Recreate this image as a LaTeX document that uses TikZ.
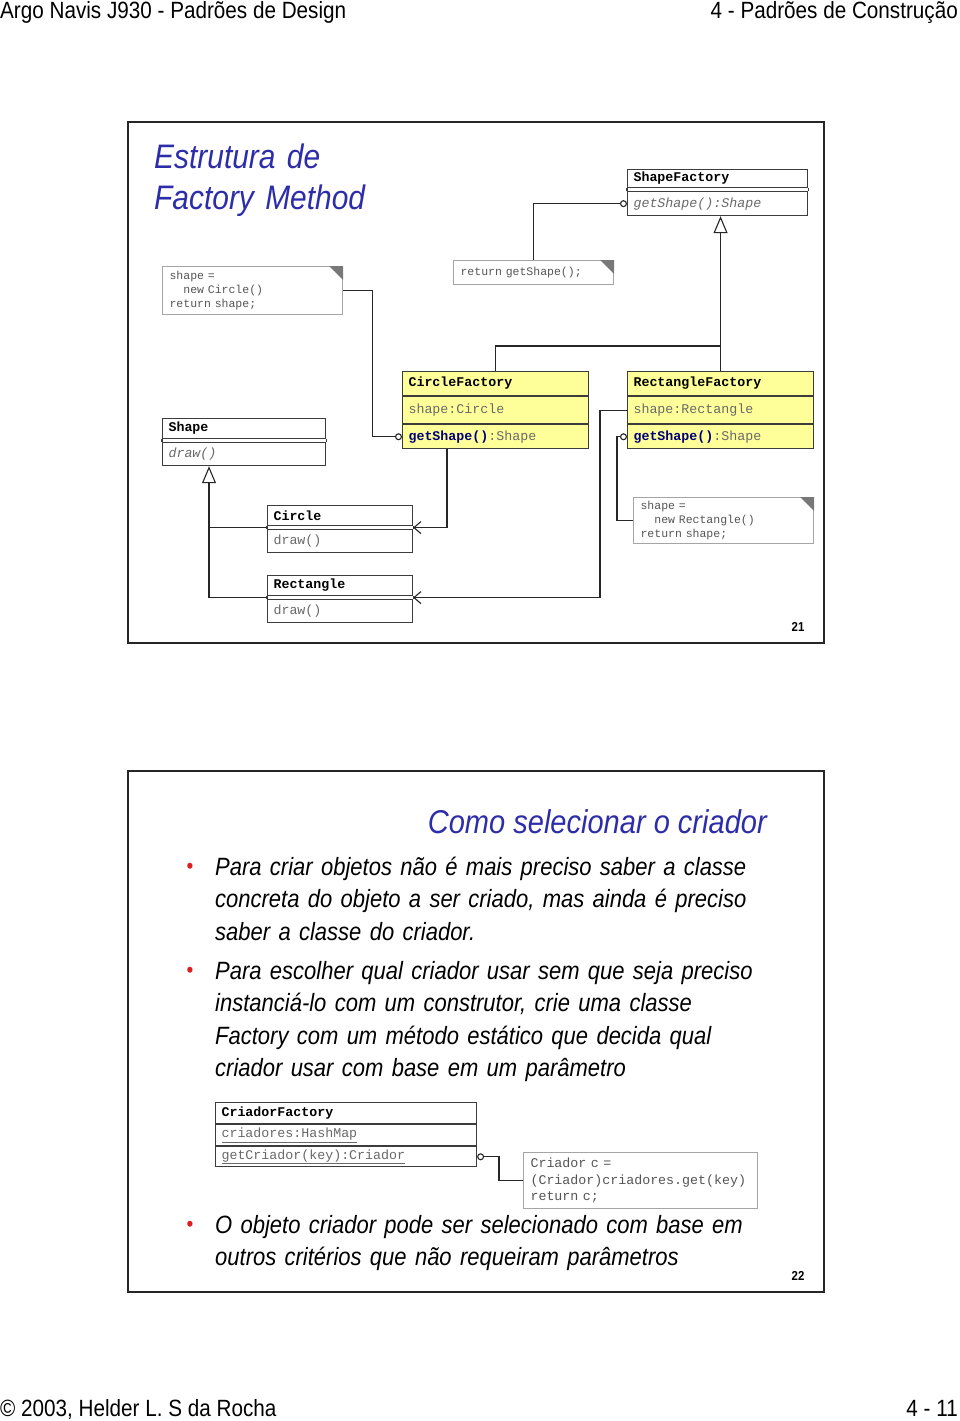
\documentclass[tikz,border=0pt]{standalone}
\usepackage{fontspec}
\setmainfont{Liberation Sans}[FakeStretch=0.88]
\newfontfamily\umlfont{Liberation Mono}[WordSpace={1,0,0}]
\usetikzlibrary{arrows.meta,positioning}

\definecolor{slideblue}{RGB}{45,45,170}
\definecolor{bulletred}{RGB}{220,30,30}
\definecolor{umlyellow}{RGB}{255,255,153}
\definecolor{umlline}{RGB}{60,60,60}
\definecolor{umltext}{RGB}{105,105,105}
\definecolor{notegray}{RGB}{165,165,165}
\definecolor{notetext}{RGB}{85,85,85}
\definecolor{foldgray}{RGB}{120,120,120}
\definecolor{methodblue}{RGB}{0,0,120}

\tikzset{
  gen/.tip={Triangle[open,length=17pt,width=14pt]},
  dep/.tip={Straight Barb[length=7pt,width=12pt]},
  lolly/.tip={Circle[open,length=7pt,width=7pt]},
  umlrow/.style={draw=umlline, line width=1.1pt, inner xsep=6pt, inner ysep=0pt,
    align=left, anchor=north west, font=\umlfont\fontsize{13.3}{15}\selectfont},
  umlnote/.style={draw=notegray, line width=1.1pt, inner xsep=7pt, inner ysep=0pt,
    align=left, anchor=north west, text=notetext, font=\umlfont\fontsize{11.5}{14}\selectfont},
  conn/.style={draw=black!85, line width=1.1pt},
  bullettext/.style={anchor=base west, text width=600pt, align=left, inner sep=0pt,
    font=\fontsize{25}{32.5}\selectfont\itshape},
  bulletdot/.style={text=bulletred, inner sep=0pt, font=\fontsize{22}{22}\selectfont},
  slidetitle/.style={text=slideblue, inner sep=0pt, font=\fontsize{34}{41}\selectfont\itshape}
}
\newcommand{\notefold}[1]{\fill[foldgray] ([xshift=-14pt]#1.north east) -- (#1.north east) -- ([yshift=-14pt]#1.north east) -- cycle;}

\begin{document}
\begin{tikzpicture}[x=1pt,y=-1pt]
\useasboundingbox (0,0) rectangle (960,1421);
\fill[white] (0,0) rectangle (960,1421);

% page header and footer
\node[anchor=base west, inner sep=0pt, font=\fontsize{23.5}{26}\selectfont] (hdleft) at (0,19) {Argo Navis J930 - Padrões de Design};
\node[anchor=base east, inner sep=0pt, font=\fontsize{23.5}{26}\selectfont] (hdright) at (958,19) {4 - Padrões de Construção};
\node[anchor=base west, inner sep=0pt, font=\fontsize{23.5}{26}\selectfont] (ftleft) at (0,1416) {© 2003, Helder L. S da Rocha};
\node[anchor=base east, inner sep=0pt, font=\fontsize{23.5}{26}\selectfont] (ftright) at (958,1416) {4 - 11};

% slide 21
\draw[line width=2pt, black!85] (128,122) rectangle (824,643);
\node[slidetitle, anchor=base west, text width=300pt, align=left] (title1) at (154,168) {Estrutura de\\Factory Method};

% classes
\node[umlrow, text width=168pt, minimum height=18pt] (sfn) at (627,169) {\textbf{ShapeFactory}};
\node[umlrow, text width=168pt, minimum height=24pt, below=3pt of sfn, text=umltext] (sfm) {\textit{getShape():Shape}};
\draw[umlline, line width=1.1pt] (sfn.south west) -- (sfm.north west) (sfn.south east) -- (sfm.north east);

\node[umlrow, fill=umlyellow, text width=174pt, minimum height=24pt] (cfn) at (402,371) {\textbf{CircleFactory}};
\node[umlrow, fill=umlyellow, text width=174pt, minimum height=27pt, below=0pt of cfn, text=umltext] (cfa) {shape:Circle};
\node[umlrow, fill=umlyellow, text width=174pt, minimum height=24pt, below=0pt of cfa] (cfm) {\textcolor{methodblue}{\textbf{getShape()}}\textcolor{umltext}{:Shape}};

\node[umlrow, fill=umlyellow, text width=174pt, minimum height=24pt] (rfn) at (627,371) {\textbf{RectangleFactory}};
\node[umlrow, fill=umlyellow, text width=174pt, minimum height=27pt, below=0pt of rfn, text=umltext] (rfa) {shape:Rectangle};
\node[umlrow, fill=umlyellow, text width=174pt, minimum height=24pt, below=0pt of rfa] (rfm) {\textcolor{methodblue}{\textbf{getShape()}}\textcolor{umltext}{:Shape}};

\node[umlrow, text width=151pt, minimum height=20pt] (shn) at (162,418) {\textbf{Shape}};
\node[umlrow, text width=151pt, minimum height=23pt, below=3pt of shn, text=umltext] (shm) {\textit{draw()}};
\draw[umlline, line width=1.1pt] (shn.south west) -- (shm.north west) (shn.south east) -- (shm.north east);

\node[umlrow, text width=133pt, minimum height=20pt] (cin) at (267,505) {\textbf{Circle}};
\node[umlrow, text width=133pt, minimum height=23pt, below=3pt of cin, text=umltext] (cim) {draw()};
\draw[umlline, line width=1.1pt] (cin.south west) -- (cim.north west) (cin.south east) -- (cim.north east);

\node[umlrow, text width=133pt, minimum height=20pt] (ren) at (267,575) {\textbf{Rectangle}};
\node[umlrow, text width=133pt, minimum height=23pt, below=3pt of ren, text=umltext] (rem) {draw()};
\draw[umlline, line width=1.1pt] (ren.south west) -- (rem.north west) (ren.south east) -- (rem.north east);

% notes
\node[umlnote, text width=166pt, minimum height=48pt] (note1) at (162,266) {shape =\\\phantom{xx}new Circle()\\return shape;};
\notefold{note1}
\node[umlnote, text width=146pt, minimum height=24pt] (note2) at (453,260) {return getShape();};
\notefold{note2}
\node[umlnote, text width=166pt, minimum height=46pt] (note3) at (633,497) {shape =\\\phantom{xx}new Rectangle()\\return shape;};
\notefold{note3}

% connectors
\draw[conn, -lolly] (note2.north) |- (sfm.west);
\draw[conn, -gen] (rfn.north) -- (rfn.north |- sfm.south);
\draw[conn] (cfn.north) -- ++(0,-25) -| (rfn.north);
\draw[conn, -lolly] (note1.east) -- ++(29,0) |- (cfm.west);
\draw[conn, -dep] ([xshift=45pt]cfm.south west) |- ([yshift=-1.5pt]cin.south east);
\draw[conn, -dep] (rfa.west) -- ++(-27,0) |- ([yshift=-1.5pt]ren.south east);
\draw[conn, -lolly] (note3.west) -- ++(-16,0) |- (rfm.west);
\draw[conn, -gen] ([yshift=-1.5pt]ren.south west) -| ([xshift=47pt]shm.south west);
\draw[conn] ([yshift=-1.5pt]cin.south west) -- ++(-58,0);

\node[inner sep=0pt, font=\bfseries\fontsize{13}{13}\selectfont] (pg21) at (798,627) {21};

% slide 22
\draw[line width=2pt, black!85] (128,771) rectangle (824,1292);
\node[slidetitle, anchor=base east, font=\fontsize{33}{41}\selectfont\itshape] (title2) at (767,833) {Como selecionar o criador};

\node[bulletdot] (dot1) at (190,868) {•};
\node[bullettext] (item1) at (215,875) {Para criar objetos não é mais preciso saber a classe\\concreta do objeto a ser criado, mas ainda é preciso\\saber a classe do criador.};
\node[bulletdot] (dot2) at (190,972) {•};
\node[bullettext] (item2) at (215,979) {Para escolher qual criador usar sem que seja preciso\\instanciá-lo com um construtor, crie uma classe\\Factory com um método estático que decida qual\\criador usar com base em um parâmetro};

\node[umlrow, text width=249pt, minimum height=21pt] (crn) at (215,1102) {\textbf{CriadorFactory}};
\node[umlrow, text width=249pt, minimum height=21pt, below=0pt of crn, text=umltext] (cra) {\underline{criadores:HashMap}};
\node[umlrow, text width=249pt, minimum height=20pt, below=0pt of cra, text=umltext] (crm) {\underline{getCriador(key):Criador}};
\node[umlnote, text width=220pt, minimum height=56pt, font=\umlfont\fontsize{13.3}{16.5}\selectfont] (note4) at (523,1152) {Criador c =\\(Criador)criadores.get(key)\\return c;};
\draw[conn, -lolly] (note4.west) -- ++(-24,0) |- (crm.east);

\node[bulletdot] (dot3) at (190,1226) {•};
\node[bullettext] (item3) at (215,1233) {O objeto criador pode ser selecionado com base em\\outros critérios que não requeiram parâmetros};

\node[inner sep=0pt, font=\bfseries\fontsize{13}{13}\selectfont] (pg22) at (798,1276) {22};
\end{tikzpicture}
\end{document}
